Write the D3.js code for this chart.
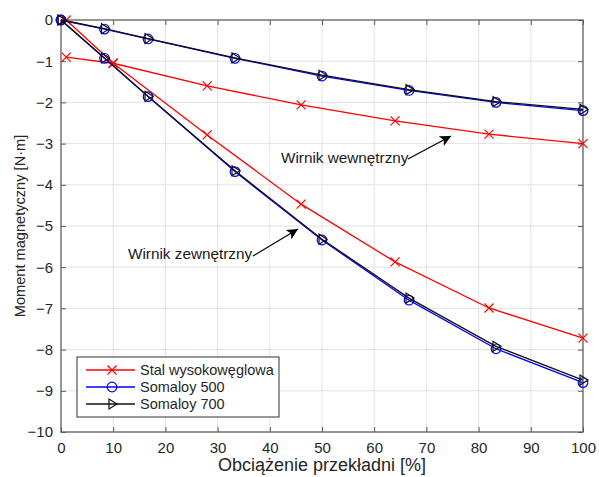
<!DOCTYPE html>
<html>
<head>
<meta charset="utf-8">
<script src="https://cdn.jsdelivr.net/npm/d3@7"></script>
<style>
  body { margin: 0; background: #fff; }
  text { font-family: "Liberation Sans", Arial, sans-serif; }
</style>
</head>
<body>
<svg width="599" height="477"></svg>
<script>
// data
const xTicks = [0, 10, 20, 30, 40, 50, 60, 70, 80, 90, 100]
const yTicks = [0, -1, -2, -3, -4, -5, -6, -7, -8, -9, -10]

// Stal wysokoweglowa
const stalLoad = [1, 10, 28, 46, 64, 82, 100]
const stalInner = [-0.9, -1.05, -1.6, -2.06, -2.45, -2.77, -3.0]
const stalOuter = [0, -1.05, -2.79, -4.47, -5.87, -6.99, -7.72]

// Somaloy
const somLoad = [0, 8.33, 16.67, 33.33, 50, 66.67, 83.33, 100]
const som500Inner = [0, -0.22, -0.46, -0.93, -1.36, -1.71, -2.0, -2.2]
const som500Outer = [0, -0.93, -1.86, -3.68, -5.34, -6.8, -7.98, -8.8]
const som700Inner = [0, -0.21, -0.45, -0.92, -1.34, -1.69, -1.98, -2.17]
const som700Outer = [0, -0.92, -1.85, -3.66, -5.32, -6.75, -7.92, -8.74]

const legendNames = ["Stal wysokowęglowa", "Somaloy 500", "Somaloy 700"]

const margin = {top: 20, right: 16, bottom: 45, left: 61}
const width = 599, height = 477

let svg = d3.select("svg")

let x = d3.scaleLinear().domain([0, 100]).range([margin.left, width - margin.right])
let y = d3.scaleLinear().domain([-10, 0]).range([height - margin.bottom, margin.top])

let axisColor = "#5a5a5a"
let textColor = "#262626"

// grid
svg.append("g").selectAll("line").data(xTicks).join("line")
    .attr("x1", d => x(d)).attr("x2", d => x(d))
    .attr("y1", y(0)).attr("y2", y(-10))
    .attr("stroke", "#e3e3e3").attr("stroke-width", 1)
svg.append("g").selectAll("line").data(yTicks).join("line")
    .attr("x1", x(0)).attr("x2", x(100))
    .attr("y1", d => y(d)).attr("y2", d => y(d))
    .attr("stroke", "#e3e3e3").attr("stroke-width", 1)

// axes, ticks pointing inward
let xAxis = d3.axisBottom(x).tickValues(xTicks).tickSize(-5).tickPadding(10)
let yAxis = d3.axisLeft(y).tickValues(yTicks).tickSize(-5).tickPadding(8)
let xTop = d3.axisTop(x).tickValues(xTicks).tickSize(-5).tickFormat("")
let yRight = d3.axisRight(y).tickValues(yTicks).tickSize(-5).tickFormat("")

function styleAxis(g) {
    g.select(".domain").remove()
    g.selectAll("line").attr("stroke", axisColor)
    g.selectAll("text").attr("fill", textColor).attr("font-size", 15)
        .attr("font-family", "Liberation Sans, Arial, sans-serif")
}

svg.append("g").attr("transform", `translate(0,${y(-10)})`).call(xAxis).call(styleAxis)
svg.append("g").attr("transform", `translate(${x(0)},0)`).call(yAxis).call(styleAxis)
svg.append("g").attr("transform", `translate(0,${y(0)})`).call(xTop).call(styleAxis)
svg.append("g").attr("transform", `translate(${x(100)},0)`).call(yRight).call(styleAxis)

svg.append("rect")
    .attr("x", x(0)).attr("y", y(0))
    .attr("width", x(100) - x(0)).attr("height", y(-10) - y(0))
    .attr("fill", "none").attr("stroke", axisColor).attr("stroke-width", 1.2)

// axis labels
svg.append("text")
    .attr("x", (x(0) + x(100)) / 2).attr("y", 471)
    .attr("text-anchor", "middle").attr("font-size", 18).attr("fill", textColor)
    .text("Obciążenie przekładni [%]")
svg.append("text")
    .attr("transform", `translate(25,${(y(0) + y(-10)) / 2}) rotate(-90)`)
    .attr("text-anchor", "middle").attr("font-size", 14.6).attr("fill", textColor)
    .text("Moment magnetyczny [N·m]")

let line = d3.line().x(d => x(d[0])).y(d => y(d[1]))

// markers
function markX(g, px, py, col) {
    let s = 4.5
    g.append("path")
        .attr("d", `M${px - s},${py - s}L${px + s},${py + s}M${px - s},${py + s}L${px + s},${py - s}`)
        .attr("stroke", col).attr("stroke-width", 1.2).attr("fill", "none")
}
function markO(g, px, py, col) {
    g.append("circle").attr("cx", px).attr("cy", py).attr("r", 4.8)
        .attr("stroke", col).attr("stroke-width", 1.2).attr("fill", "none")
}
function markTri(g, px, py, col) {
    let s = 5
    g.append("path")
        .attr("d", `M${px + s},${py}L${px - s * 0.6},${py - s}L${px - s * 0.6},${py + s}Z`)
        .attr("stroke", col).attr("stroke-width", 1.2).attr("fill", "none")
}

function drawSeries(xs, ys, col, marker) {
    let pts = xs.map((v, i) => [v, ys[i]])
    let g = svg.append("g")
    g.append("path").datum(pts).attr("d", line)
        .attr("fill", "none").attr("stroke", col).attr("stroke-width", 1.3)
    pts.forEach(p => marker(g, x(p[0]), y(p[1]), col))
}

drawSeries(stalLoad, stalInner, "#ff0000", markX)
drawSeries(stalLoad, stalOuter, "#ff0000", markX)
drawSeries(somLoad, som500Inner, "#0000ff", markO)
drawSeries(somLoad, som500Outer, "#0000ff", markO)
drawSeries(somLoad, som700Inner, "#111111", markTri)
drawSeries(somLoad, som700Outer, "#111111", markTri)

// annotations
let defs = svg.append("defs")
defs.append("marker").attr("id", "arr")
    .attr("viewBox", "0 0 10 10").attr("refX", 10).attr("refY", 5)
    .attr("markerWidth", 15).attr("markerHeight", 11).attr("markerUnits", "userSpaceOnUse")
    .attr("orient", "auto")
    .append("path").attr("d", "M0,0L10,5L0,10L2.5,5Z").attr("fill", "#000")

function annotate(label, tx, ty, x1, y1, x2, y2) {
    svg.append("text").attr("x", tx).attr("y", ty)
        .attr("font-size", 15.3).attr("fill", "#1a1a1a").text(label)
    svg.append("line").attr("x1", x1).attr("y1", y1).attr("x2", x2).attr("y2", y2)
        .attr("stroke", "#000").attr("stroke-width", 1.2).attr("marker-end", "url(#arr)")
}
annotate("Wirnik wewnętrzny", 281, 163, 408, 159, 451, 136)
annotate("Wirnik zewnętrzny", 128, 259, 253, 256, 298, 229)

// legend
let legend = svg.append("g")
legend.append("rect").attr("x", 77).attr("y", 357).attr("width", 202).attr("height", 60)
    .attr("fill", "#fff").attr("stroke", "#333").attr("stroke-width", 1)
let legendCols = ["#ff0000", "#0000ff", "#111111"]
let legendMarks = [markX, markO, markTri]
legendNames.forEach((name, i) => {
    let ly = 370 + i * 17
    legend.append("line").attr("x1", 86).attr("x2", 135).attr("y1", ly).attr("y2", ly)
        .attr("stroke", legendCols[i]).attr("stroke-width", 1.3)
    legendMarks[i](legend, 112, ly, legendCols[i])
    legend.append("text").attr("x", 140).attr("y", ly + 5)
        .attr("font-size", 14.5).attr("fill", textColor).text(name)
})
</script>
</body>
</html>
